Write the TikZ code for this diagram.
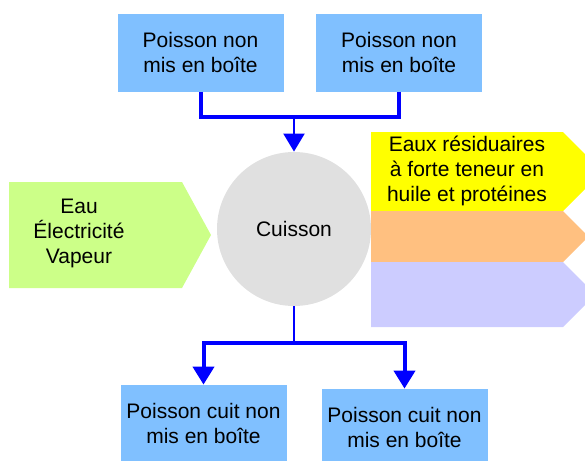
\documentclass[tikz,border=0pt]{standalone}
\usepackage{fontspec}
\setmainfont{Liberation Sans}
\usetikzlibrary{arrows.meta}
\definecolor{boxblue}{RGB}{128,192,255}
\definecolor{circgray}{RGB}{224,224,224}
\definecolor{inputgreen}{RGB}{204,255,136}
\definecolor{wasteyellow}{RGB}{255,255,0}
\definecolor{wasteorange}{RGB}{255,192,128}
\definecolor{wastelilac}{RGB}{204,204,255}

\begin{document}
\begin{tikzpicture}[x=0.5pt,y=-0.5pt,>={Triangle[width=10.5pt,length=9pt]},
	every node/.style={font=\fontsize{10.5}{12.5}\selectfont},
	box/.style={rectangle,fill=boxblue,inner sep=0pt,minimum width=83pt,minimum height=39pt,align=center},
	link/.style={draw=blue,line width=2pt},
	thinlink/.style={draw=blue,line width=1pt}]
\useasboundingbox (0,0) rectangle (585,461);
\clip (0,0) rectangle (585,461);

% outputs on the right
\foreach \c/\ya/\yb in {wasteyellow/132/211,wasteorange/211/262,wastelilac/262/327}{
	\fill[\c] (371,\ya) -- (563,\ya) -- ({563+(\yb-\ya)/2},{(\ya+\yb)/2}) -- (563,\yb) -- (371,\yb) -- cycle;
}
% inputs on the left
\fill[inputgreen] (9,182) -- (182,182) -- (211,235) -- (182,288) -- (9,288) -- cycle;

\node[circle,fill=circgray,minimum size=77pt,inner sep=0pt] (cuisson) at (294,229) {Cuisson};
\node[box] (top1) at (200.5,52.5) {Poisson non\\mis en boîte};
\node[box] (top2) at (399,52.5) {Poisson non\\mis en boîte};
\node[box,minimum height=38pt] (bot1) at (203.5,423) {Poisson cuit non\\mis en boîte};
\node[box,minimum height=38pt] (bot2) at (404.5,427) {Poisson cuit non\\mis en boîte};
\node[align=center] (inputs) at (79,233) {Eau\\Électricité\\Vapeur};
\node[align=center] (waste) at (467,171) {Eaux résiduaires\\à forte teneur en\\huile et protéines};

\coordinate (jtop) at (294,117);
\coordinate (jbot) at (294,343);
\draw[link] (top1.south) |- (jtop);
\draw[link] (top2.south) |- (jtop);
\draw[thinlink,->] (jtop) -- (cuisson.north);
\draw[thinlink] (cuisson.south) -- (jbot);
\draw[link,->] (jbot) -| (bot1.north);
\draw[link,->] (jbot) -| (bot2.north);
\end{tikzpicture}
\end{document}
